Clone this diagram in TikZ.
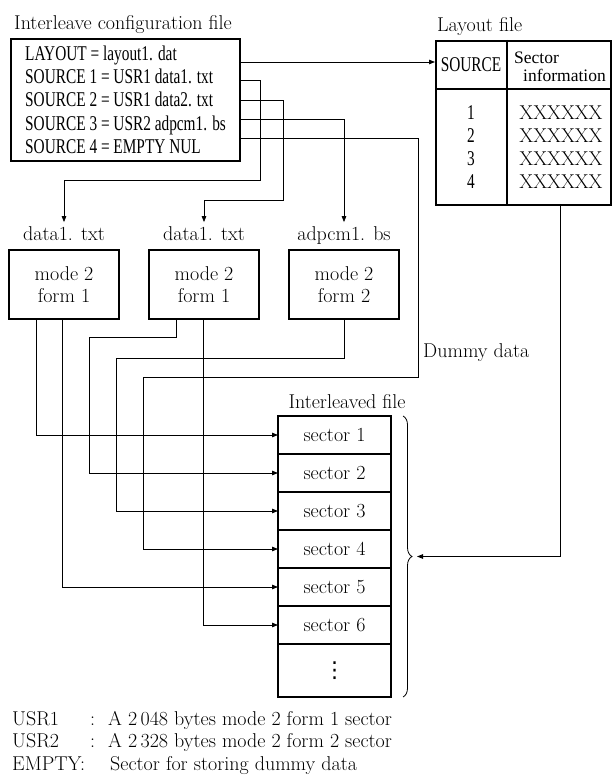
\documentclass[tikz,border=0pt]{standalone}
\usepackage{fontspec}
\newfontfamily\condfont[FakeStretch=0.73]{Liberation Serif}
\newfontfamily\timesfont{Liberation Serif}
\newfontfamily\symfont{DejaVu Sans}
\usetikzlibrary{positioning,arrows.meta,calc,decorations.pathreplacing}
\tikzset{
  il box/.style={draw, line width=1.6pt},
  il wire/.style={line width=0.8pt},
  il arrow/.style={il wire, -{Triangle[length=6pt,width=4.5pt]}},
  il text/.style={font=\fontsize{20}{22}\selectfont, inner sep=0pt},
  il cond/.style={font=\condfont\fontsize{21}{23}\selectfont, inner sep=0pt, anchor=base west},
  il label/.style={il text, anchor=base, outer sep=5pt},
  il mode/.style={il box, il text, minimum width=110pt, minimum height=69pt, align=center},
  il sector/.style={il box, il text, minimum width=113pt, minimum height=38pt, outer sep=0pt}
}

\begin{document}
\begin{tikzpicture}[x=1pt,y=-1pt]
\useasboundingbox (0,0) rectangle (611,775);
% interleave configuration file
\node[il text, anchor=base west] (cfgtitle) at (14,30) {Interleave configuration file};
\node[il box, anchor=north west, minimum width=229pt, minimum height=122pt] (cfg) at (10,38) {};
\node[il cond] (l0) at (25,60.5) {LAYOUT = layout1. dat};
\node[il cond] (l1) at (25,83.7) {SOURCE 1 = USR1 data1. txt};
\node[il cond] (l2) at (25,106.9) {SOURCE 2 = USR1 data2. txt};
\node[il cond] (l3) at (25,130.1) {SOURCE 3 = USR2 adpcm1. bs};
\node[il cond] (l4) at (25,153.3) {SOURCE 4 = EMPTY NUL};
\coordinate (o0) at (239,62);
\coordinate (o1) at (239,80);
\coordinate (o2) at (239,100);
\coordinate (o3) at (239,119);
\coordinate (o4) at (239,138);

% layout file
\node[il text, anchor=base west] (laytitle) at (437,32) {Layout file};
\node[il box, anchor=north west, minimum width=175pt, minimum height=164pt] (lay) at (435,40) {};
\draw[il box] (435,89) -- (610,89);
\draw[il box] (507,40) -- (507,204);
\node[il cond, anchor=base] (src) at (471,72) {SOURCE};
\node[font=\timesfont\fontsize{17.5}{19}\selectfont, inner sep=0pt, anchor=base west] (secinfo1) at (514,64) {Sector};
\node[font=\timesfont\fontsize{17.5}{19}\selectfont, inner sep=0pt, anchor=base west] (secinfo2) at (523,82) {information};
\foreach \n/\y in {1/120,2/142.7,3/165.4,4/188.1} {
  \node[il cond, anchor=base] (num\n) at (471,\y) {\n};
  \node[il text, anchor=base] (xx\n) at (561,\y) {XXXXXX};
}

% source files
\node[il label] (t1) at (64,241) {data1. txt};
\node[il label] (t2) at (204,241) {data1. txt};
\node[il label] (t3) at (344,241) {adpcm1. bs};
\node[il mode] (m1) at (64,284.5) {mode 2\\form 1};
\node[il mode] (m2) at (204,284.5) {mode 2\\form 1};
\node[il mode] (m3) at (344,284.5) {mode 2\\form 2};

% interleaved file
\node[il text, anchor=base] (iltitle) at (347,408) {Interleaved file};
\node[il sector] (s1) at (334.5,435) {sector 1};
\foreach \i [remember=\i as \j (initially 1)] in {2,...,6} {
  \node[il sector, below=0pt of s\j] (s\i) {sector \i};
}
\node[il sector, minimum height=53pt, below=0pt of s6, font=\symfont\fontsize{22}{24}\selectfont] (s7) {⋮};
\draw[il wire, decorate, decoration={brace, amplitude=9pt}]
  ([xshift=12pt]s1.north east) -- ([xshift=12pt]s7.south east);
\coordinate (bt) at ($(s1.north east)!0.5!(s7.south east)+(26pt,0)$);

\node[il text, anchor=base west] (dummy) at (423,357) {Dummy data};

% connectors
\draw[il arrow] (o0) -- (lay.west |- o0);
\draw[il arrow] (o1) -- (260,80) -- (260,180) -| (t1.north);
\draw[il arrow] (o2) -- (283,100) -- (283,200) -| (t2.north);
\draw[il arrow] (o3) -| (t3.north);
\draw[il arrow] (o4) -| (418,377) -| ([xshift=-135pt]s4.west) -- (s4.west);
\draw[il arrow] ([xshift=-28pt]m1.south) |- (s1.west);
\draw[il arrow] ([xshift=-2pt]m1.south) |- (s5.west);
\draw[il arrow] ([xshift=-28pt]m2.south) -- ++(0,18) -| ([xshift=-189pt]s2.west) -- (s2.west);
\draw[il arrow] ([xshift=-1pt]m2.south) |- (s6.west);
\draw[il arrow] (m3.south) -- ++(0,39) -| ([xshift=-162pt]s3.west) -- (s3.west);
\coordinate (dd) at (560,204);
\draw[il arrow] (dd) |- (bt);

% notes
\foreach \k/\y/\txt in {1/725/{A 2\,048 bytes mode 2 form 1 sector}, 2/747.5/{A 2\,328 bytes mode 2 form 2 sector}} {
  \node[il text, anchor=base west] (usr\k) at (12,\y) {USR\k};
  \node[il text, anchor=base west] (col\k) at (90,\y) {:};
  \node[il text, anchor=base west] (note\k) at (108,\y) {\txt};
}
\node[il text, anchor=base west] (empty) at (12,770) {EMPTY};
\node[il text, anchor=base west] (col3) at (80,770) {:};
\node[il text, anchor=base west] (note3) at (110,770) {Sector for storing dummy data};
\end{tikzpicture}
\end{document}
